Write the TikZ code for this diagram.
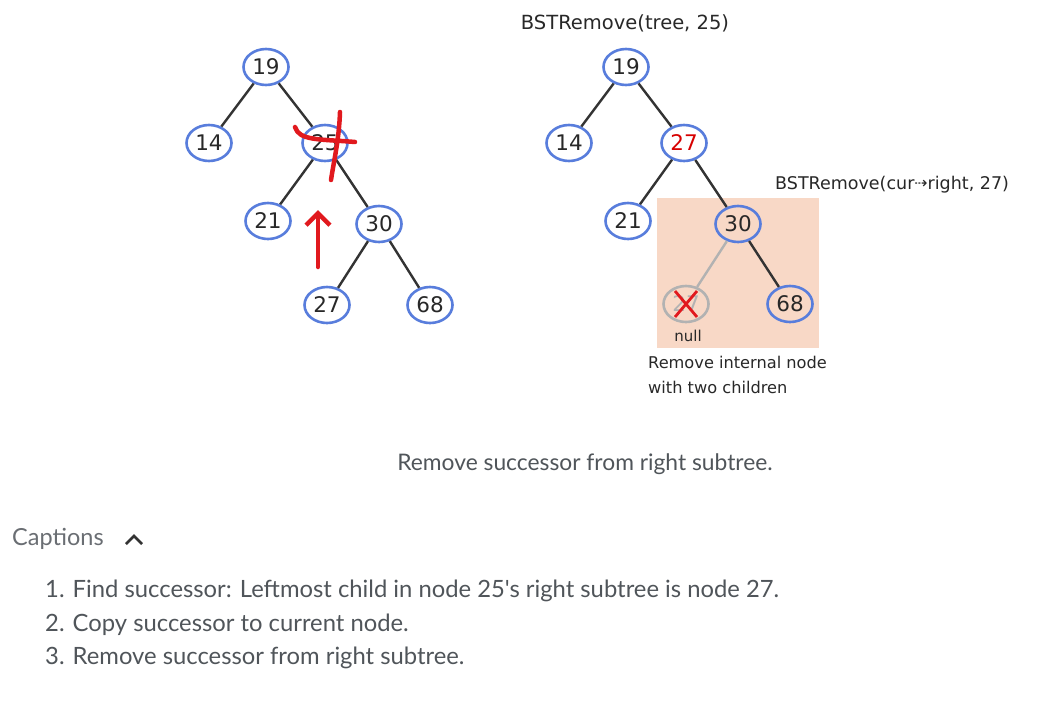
\documentclass[tikz,border=0pt]{standalone}
\usepackage{fontspec}
\setmainfont{DejaVu Sans}
\newfontfamily\uifont{Lato}
\usetikzlibrary{arrows.meta,shapes.geometric}
\definecolor{nodeblue}{RGB}{88,125,220}
\definecolor{edgedark}{RGB}{51,51,51}
\definecolor{textdark}{RGB}{40,40,40}
\definecolor{markred}{RGB}{225,25,30}
\definecolor{valred}{RGB}{215,0,0}
\definecolor{peach}{RGB}{248,216,198}
\definecolor{ghost}{RGB}{178,178,178}
\definecolor{uigray}{RGB}{80,85,90}
\begin{document}
\begin{tikzpicture}[x=1pt,y=-1pt,
  bst/.style={draw=nodeblue, line width=2.6pt, ellipse,
    minimum width=45pt, minimum height=36pt, inner sep=0pt,
    font=\fontsize{21.5}{21.5}\selectfont, text=textdark},
  gone/.style={bst, draw=ghost, text=ghost},
  edge/.style={draw=edgedark, line width=2.4pt},
  goneedge/.style={draw=ghost, line width=2.4pt},
  redmark/.style={draw=markred, line width=4.5pt, line cap=round},
  lbl/.style={font=\fontsize{16.2}{16.2}\selectfont, text=textdark, inner sep=0pt},
  ui/.style={font=\uifont\fontsize{23.8}{23.8}\selectfont, text=uigray, inner sep=0pt}]
\useasboundingbox[fill=white] (0,0) rectangle (1054,702);

% ---------- left tree ----------
\node[bst] (a19) at (266,67) {19};
\node[bst] (a14) at (209,143) {14};
\node[bst] (a25) at (325,143) {25};
\node[bst] (a21) at (268,221) {21};
\node[bst] (a30) at (379,224) {30};
\node[bst] (a27) at (327,305) {27};
\node[bst] (a68) at (430,305) {68};
\draw[edge] (a19) -- (a14);
\draw[edge] (a19) -- (a25);
\draw[edge] (a25) -- (a21);
\draw[edge] (a25) -- (a30);
\draw[edge] (a30) -- (a27);
\draw[edge] (a30) -- (a68);

% red marks
\coordinate (h1) at (295,127);
\coordinate (h2) at (355,142);
\coordinate (v1) at (340,112);
\coordinate (v2) at (331,180);
\draw[redmark] (h1) .. controls (299,141) and (320,139) .. (h2);
\draw[redmark] (v1) .. controls (339,140) and (334,160) .. (v2);
\coordinate (ar1) at (318,267);
\coordinate (ar2) at (318,210);
\draw[redmark, -{Straight Barb[length=12pt,width=24pt,line width=4.5pt]}] (ar1) -- (ar2);

% ---------- right tree ----------
\fill[peach] (657,198) rectangle (819,348);
\node[lbl, anchor=base, font=\fontsize{19.5}{19.5}\selectfont] (t1) at (625,29) {BSTRemove(tree, 25)};
\node[bst] (b19) at (626,67) {19};
\node[bst] (b14) at (569,143) {14};
\node[bst, text=valred] (b27) at (684,143) {27};
\node[bst] (b21) at (628,221) {21};
\node[bst] (b30) at (738,224) {30};
\node[gone] (bx) at (686,304) {27};
\node[bst] (b68) at (790,304) {68};
\draw[edge] (b19) -- (b14);
\draw[edge] (b19) -- (b27);
\draw[edge] (b27) -- (b21);
\draw[edge] (b27) -- (b30);
\draw[goneedge] (b30) -- (bx);
\draw[edge] (b30) -- (b68);
\draw[draw=markred, line width=2.8pt] (bx.center) +(-11,-13) -- +(11,13);
\draw[draw=markred, line width=2.8pt] (bx.center) +(11,-13) -- +(-11,13);
\node[lbl, anchor=base, font=\fontsize{15}{15}\selectfont] (nul) at (688,341) {null};
\node[lbl, anchor=base west, font=\fontsize{17.5}{17.5}\selectfont] (t2) at (775,189) {BSTRemove(cur\raisebox{1pt}{\scalebox{0.9}{⇢}}right, 27)};
\node[lbl, anchor=base west] (t3) at (648,368) {Remove internal node};
\node[lbl, anchor=base west] (t4) at (648,393) {with two children};

% ---------- captions ----------
\node[ui, anchor=base, font=\uifont\fontsize{22.8}{22.8}\selectfont] (cap) at (585,470) {Remove successor from right subtree.};
\node[ui, anchor=base west, text=uigray!85, font=\uifont\fontsize{23.5}{23.5}\selectfont] (caps) at (12,545) {Captions};
\coordinate (c1) at (126,544);
\coordinate (c2) at (134,536);
\coordinate (c3) at (142,544);
\draw[draw=edgedark, line width=2.8pt] (c1) -- (c2) -- (c3);
\node[ui, anchor=base west] (l1) at (45,597) {1. Find successor: Leftmost child in node 25's right subtree is node 27.};
\node[ui, anchor=base west] (l2) at (45,631) {2. Copy successor to current node.};
\node[ui, anchor=base west] (l3) at (45,664) {3. Remove successor from right subtree.};
\end{tikzpicture}
\end{document}
